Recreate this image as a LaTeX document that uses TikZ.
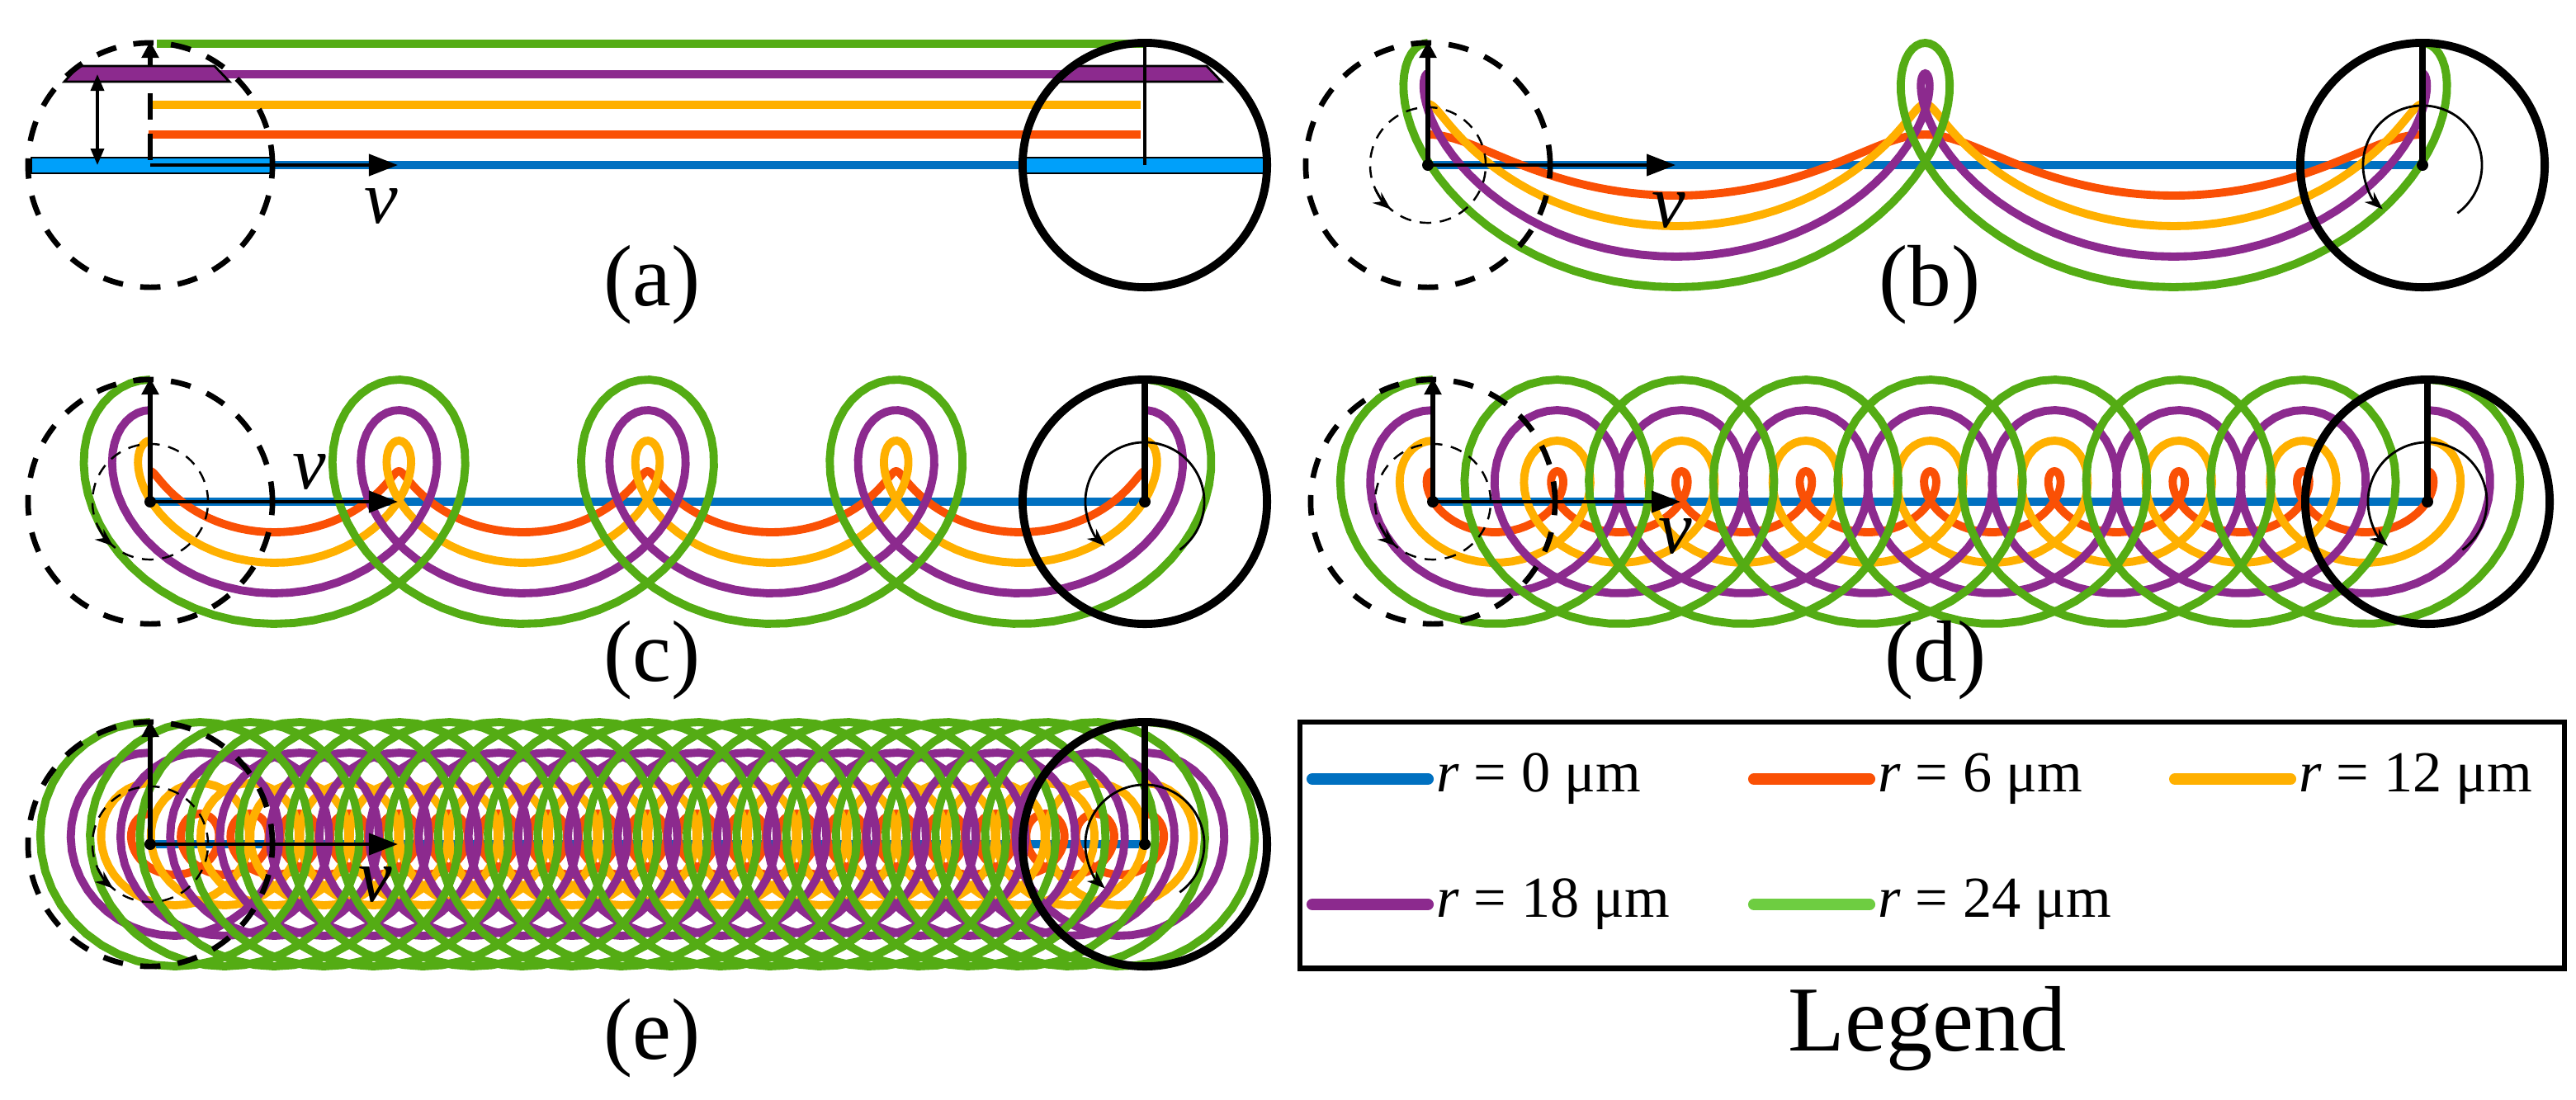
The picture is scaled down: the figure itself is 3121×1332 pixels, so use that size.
\documentclass[tikz,border=0pt]{standalone}
\usepackage{fontspec}
\setmainfont{Liberation Serif}
\usetikzlibrary{arrows.meta,calc}

\definecolor{cblue}{RGB}{0,112,192}
\definecolor{clblue}{RGB}{0,160,250}
\definecolor{cred}{RGB}{250,80,5}
\definecolor{cyel}{RGB}{255,176,0}
\definecolor{cpur}{RGB}{140,42,142}
\definecolor{cgrn}{RGB}{84,172,20}
\definecolor{clgrn}{RGB}{110,205,65}

\tikzstyle{traj} = [line width=2.8pt]
\tikzstyle{dashcirc} = [line width=1.9pt, dash pattern=on 7pt off 6pt]
\tikzstyle{thindash} = [line width=0.7pt, dash pattern=on 4pt off 3pt]
\tikzstyle{wheel} = [line width=2.8pt]
\tikzstyle{varrow} = [line width=1.2pt,-{Triangle[length=0.35cm,width=0.26cm]}]
\tikzstyle{uparrow} = [line width=1.5pt,-{Triangle[length=0.2cm,width=0.2cm]}]
\tikzstyle{lbl} = [font=\fontsize{30}{32}\selectfont]
\tikzstyle{vlbl} = [font=\fontsize{26}{28}\selectfont\itshape]
\tikzstyle{leg} = [font=\fontsize{20}{22}\selectfont, anchor=west, inner sep=0pt]

% trajectories for r = 6..24 um, #1 #2 = start pivot, #3 = turns
\newcommand{\trajet}[3]{%
  \foreach \r/\c in {37/cred,74/cyel,111/cpur,148/cgrn}{
    \draw[traj,\c] plot[variable=\t,domain=0:1,samples=#3*40+41]
      ({#1+1205*\t-\r*sin(360*#3*\t)},{#2-\r*cos(360*#3*\t)});
  }}
% start and end wheels, #1 = panel name
\newcommand{\roues}[1]{%
  \draw[dashcirc] (p#1) circle (1.48cm);
  \draw[thindash] (p#1) circle (0.7cm);
  \draw[line width=0.8pt,-{Stealth[length=0.22cm]}] ($(p#1)+(-205:70)$) arc[start angle=205, end angle=230, radius=0.7cm];
  \draw[uparrow] (p#1) -- (t#1);
  \fill (p#1) circle (0.07cm);
  \draw[wheel] (q#1) circle (1.48cm);
  \draw[line width=0.8pt,-{Stealth[length=0.22cm]}] ($(q#1)+(54:72)$) arc[start angle=-54, end angle=228, radius=0.72cm];
  \draw[line width=2.2pt] (q#1) -- (u#1);
  \fill (q#1) circle (0.07cm);
}

\begin{document}
\begin{tikzpicture}[x=0.01cm,y=-0.01cm]
  \useasboundingbox (0,0) rectangle (3121,1332);

  % pivots
  \coordinate (pa) at (182,200);  \coordinate (qa) at (1387,200);
  \coordinate (pb) at (1730,200); \coordinate (qb) at (2935,200);
  \coordinate (pc) at (182,608);  \coordinate (qc) at (1387,608);
  \coordinate (pd) at (1736,608); \coordinate (qd) at (2941,608);
  \coordinate (pe) at (182,1023); \coordinate (qe) at (1387,1023);
  \foreach \n/\x/\y in {a/182/200,b/1730/200,c/182/608,d/1736/608,e/182/1023}{
    \coordinate (t\n) at (\x,\y-150);
    \coordinate (u\n) at (\x+1205,\y-150);
    \coordinate (v\n) at (\x+300,\y);
  }

  % (a)
  \draw[traj,cblue] (pa) -- (qa);
  \draw[line width=0.8pt,fill=clblue] (38,191) rectangle (328,210);
  \draw[line width=0.8pt,fill=clblue] (1240,191) rectangle (1532,210);
  \draw[traj,cred] (180,163) -- (1382,163);
  \draw[traj,cyel] (185,127) -- (1382,127);
  \draw[traj,cpur] (260,90) -- (1290,90);
  \draw[traj,cgrn] (190,53) -- (1387,53);
  \draw[line width=0.8pt,fill=cpur] (95,80) -- (260,80) -- (278,99) -- (78,99) -- cycle;
  \draw[line width=0.8pt,fill=cpur] (1300,80) -- (1462,80) -- (1480,99) -- (1283,99) -- cycle;
  \draw[dashcirc] (pa) circle (1.48cm);
  \draw[wheel] (qa) circle (1.48cm);
  \draw[line width=1.3pt] (qa) -- (ua);
  \draw[uparrow] (182,80) -- (ta);
  \draw[line width=1.5pt, dash pattern=on 9pt off 5pt] (182,113) -- (pa);
  \draw[line width=1pt,{Triangle[length=0.2cm,width=0.16cm]}-{Triangle[length=0.2cm,width=0.16cm]}] (118,90) -- (118,200);
  \draw[varrow] (pa) -- (va);
  \node (lva) [vlbl] at (462,250) {v};
  \node (lbla) [lbl] at (790,345) {(a)};

  % (b)
  \draw[traj,cblue] (pb) -- (qb);
  \trajet{1730}{200}{2}
  \roues{b}
  \draw[varrow] (pb) -- (vb);
  \node (lvb) [vlbl] at (2022,255) {v};
  \node (lblb) [lbl] at (2338,345) {(b)};

  % (c)
  \draw[traj,cblue] (pc) -- (qc);
  \trajet{182}{608}{4}
  \roues{c}
  \draw[varrow] (pc) -- (vc);
  \node (lvc) [vlbl] at (375,572) {v};
  \node (lblc) [lbl] at (790,800) {(c)};

  % (d)
  \draw[traj,cblue] (pd) -- (qd);
  \trajet{1736}{608}{8}
  \roues{d}
  \draw[varrow] (pd) -- (vd);
  \node (lvd) [vlbl] at (2030,650) {v};
  \node (lbld) [lbl] at (2345,800) {(d)};

  % (e)
  \draw[traj,cblue] (pe) -- (qe);
  \trajet{182}{1023}{20}
  \roues{e}
  \draw[varrow] (pe) -- (ve);
  \node (lve) [vlbl] at (455,1072) {v};
  \node (lble) [lbl] at (790,1258) {(e)};

  % legend
  \node (legbox) [draw, line width=1.8pt, minimum width=15.31cm, minimum height=2.98cm, anchor=north west] at (1572,872) {};
  \foreach \x/\y/\c/\v [count=\i] in {1590/944/cblue/0,2125/944/cred/6,2635/944/cyel/12,1590/1096/cpur/18,2125/1096/clgrn/24}{
    \draw[line width=4pt,line cap=round,\c] (\x,\y) -- (\x+140,\y);
    \node (leg\i) [leg] at (\x+150,\y) {\textit{r} = \v\ μm};
  }
  \node (legend) [font=\fontsize{32}{34}\selectfont] at (2335,1247) {Legend};
\end{tikzpicture}
\end{document}
